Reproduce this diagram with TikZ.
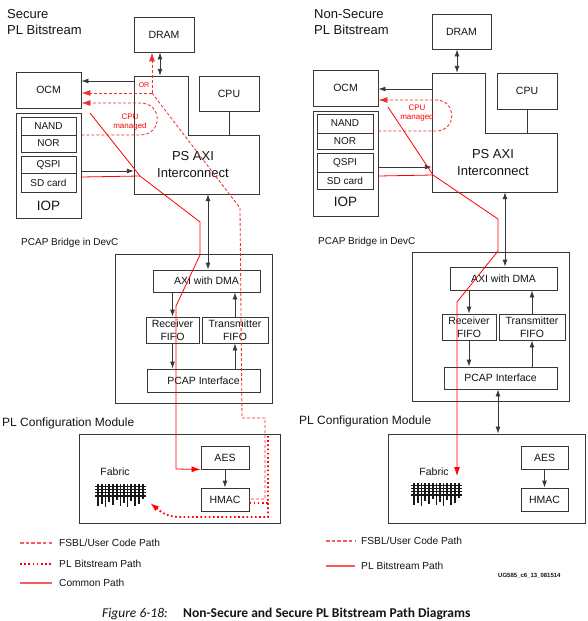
\documentclass[tikz,border=0pt]{standalone}
\usepackage{fontspec}
\setmainfont{Liberation Sans}
\newfontfamily\capfont{Carlito}
\usetikzlibrary{arrows.meta}
\definecolor{lc}{RGB}{55,55,55}
\definecolor{tc}{RGB}{20,20,20}
\definecolor{rc}{RGB}{255,0,0}
\definecolor{rc2}{RGB}{245,45,45}
\definecolor{rcl}{RGB}{250,90,90}
\begin{document}
\begin{tikzpicture}[x=1pt,y=-1pt,
  box/.style={draw=lc, line width=0.9pt, inner sep=0pt, align=center, text=tc,
    font=\fontsize{10.5}{12.5}\selectfont},
  smallbox/.style={box, font=\fontsize{10}{12}\selectfont},
  boxline/.style={draw=lc, line width=0.9pt},
  lbl/.style={inner sep=0pt, text=tc},
  arr/.style={draw=lc, line width=0.9pt, -{Latex[length=7pt,width=5pt]}},
  darr/.style={draw=lc, line width=0.9pt, {Latex[length=7pt,width=5pt]}-{Latex[length=7pt,width=5pt]}},
  rline/.style={draw=rc, line width=0.8pt},
  rdash/.style={draw=rc2, line width=0.85pt, dash pattern=on 3pt off 2pt},
  legdash/.style={draw=rcl, line width=1.1pt, dash pattern=on 3.5pt off 2.2pt},
  rdot/.style={draw=rc, line width=1.8pt, dash pattern=on 1.6pt off 2.6pt},
  rtip/.style={-{Latex[length=9pt,width=6pt]}},
  rtext/.style={inner sep=0pt, text=rc, align=center},
  fabl/.style={draw={rgb,255:red,25;green,25;blue,25}, line width=1.4pt},
  fabric/.pic={
    \foreach \yy in {2.3,5.5,8.7,12} \draw[fabl] (0,\yy) -- (51,\yy);
    \foreach \xx/\ll in {3/22,7/20,10.5/23,14/18,18/21,22/16,25.5/22,29/19,32.5/23,36/17,40/22,44/20,48/15}
      \draw[fabl] (\xx,0) -- (\xx,\ll);
  }
]
\fill[white] (0,0) rectangle (587,621);
\useasboundingbox (0,0) rectangle (587,621);

% ================= LEFT: Secure =================
\node[lbl, anchor=north west, align=left, font=\fontsize{13}{16}\selectfont] (titleL) at (7,9) {Secure\\PL Bitstream};

\node[box, minimum width=60, minimum height=35] (dramL) at (164,34.5) {DRAM};
\node[box, minimum width=65, minimum height=36] (ocmL) at (48.5,90) {OCM};
\node[box, minimum width=65, minimum height=105] (iopL) at (48.5,165.5) {};
\node[lbl, font=\fontsize{13.5}{16}\selectfont] (iopLt) at (48.5,206) {IOP};
\node[smallbox, minimum width=55, minimum height=18] (nandL) at (48.5,126) {NAND};
\node[smallbox, minimum width=55, minimum height=17] (norL) at (48.5,143.5) {NOR};
\node[smallbox, minimum width=55, minimum height=17] (qspiL) at (48.5,164.5) {QSPI};
\node[smallbox, minimum width=55, minimum height=19] (sdL) at (48.5,182.5) {SD card};

\node[inner sep=0pt, minimum width=125, minimum height=118] (psL) at (196.5,135) {};
\draw[boxline] (134,76) -- (188,76) -- (188,135) -- (259,135) -- (259,194) -- (134,194) -- cycle;
\coordinate (psLn) at (188,135);
\node[lbl, align=center, font=\fontsize{13}{17}\selectfont] (psLt) at (193,164.5) {PS AXI\\Interconnect};
\node[box, minimum width=60, minimum height=35] (cpuL) at (229,93.5) {CPU};
\draw[boxline] (cpuL.south) -- (cpuL.south |- psLn);

\draw[darr] (dramL.south -| 160,0) -- (psL.north -| 160,0);
\draw[arr] (psL.west |- 0,81) -- (ocmL.east |- 0,81);
\draw[arr] (iopL.east |- 0,171) -- (psL.west |- 0,171);

\node[lbl, anchor=west, font=\fontsize{10}{12}\selectfont] (bridgeLt) at (21,243) {PCAP Bridge in DevC};
\node[box, minimum width=157, minimum height=149] (bridgeL) at (193.5,328.5) {};
\node[box, minimum width=107, minimum height=22] (dmaL) at (206.5,281) {AXI with DMA};
\node[box, minimum width=53, minimum height=26] (rxL) at (172.5,330) {Receiver\\FIFO};
\node[box, minimum width=66, minimum height=26] (txL) at (235,330) {Transmitter\\FIFO};
\node[box, minimum width=113, minimum height=23] (pcapL) at (203.5,380.5) {PCAP Interface};
\draw[darr] (psL.south -| 208,0) -- (dmaL.north -| 208,0);
\draw[arr] (dmaL.south -| rxL) -- (rxL.north);
\draw[arr] (rxL.south) -- (pcapL.north -| rxL);
\draw[arr] (pcapL.north -| txL) -- (txL.south);
\draw[arr] (txL.north) -- (dmaL.south -| txL);

\node[lbl, anchor=west, font=\fontsize{12}{14}\selectfont] (plLt) at (2,423) {PL Configuration Module};
\node[box, minimum width=201, minimum height=89] (plL) at (179.5,478.5) {};
\node[box, minimum width=48, minimum height=23] (aesL) at (225,457.5) {AES};
\node[box, minimum width=48, minimum height=23] (hmacL) at (225,499.5) {HMAC};
\draw[arr] (aesL) -- (hmacL);
\node[lbl, font=\fontsize{10.5}{12}\selectfont] (fabLt) at (115,472) {Fabric};
\pic (fabL) at (95,484) {fabric};
\coordinate (fabLtip) at (150,503);

% red paths (left)
\coordinate (jL) at (152,93);
\draw[rdash, rtip] (jL) -- (ocmL.east |- jL);
\draw[rdash, rtip] (jL) -- (dramL.south -| jL);
\node[rtext, font=\fontsize{7}{8}\selectfont] (orL) at (144,85) {OR};
\draw[rdash] (jL) -- (240,208) -- (242,418) -- (265,418) -- (265,499) -- (hmacL.east |- 0,499);
\draw[rdot] (hmacL.east |- 0,503) -- (268,503);
\draw[rdot, rtip] (268,436) -- (268,517) -- (180,517) .. controls (166,517) and (160,511) .. (fabLtip);
\draw[rdash, rtip] (iopL.east |- 0,135) -- (140,135) .. controls (163,135) and (163,103) .. (140,103) -- (ocmL.east |- 0,103);
\node[rtext, font=\fontsize{8}{9.7}\selectfont] (cpumL) at (130,122) {CPU\\managed};
\coordinate (kL) at (140,176);
\draw[rline] (iopL.east |- 0,177) -- (kL);
\draw[rline, rtip] (90,113) -- (kL) -- (200,222) -- (200,255) -- (176,306) -- (176,469) -- (aesL.south west);

% legend (left)
\draw[legdash] (20,543) -- (52,543);
\node[lbl, anchor=west, font=\fontsize{10.2}{12}\selectfont] (legL1) at (59,543) {FSBL/User Code Path};
\draw[rdot] (20,564) -- (52,564);
\node[lbl, anchor=west, font=\fontsize{10.2}{12}\selectfont] (legL2) at (59,564) {PL Bitstream Path};
\draw[draw=rcl, line width=1.3pt] (20,583) -- (52,583);
\node[lbl, anchor=west, font=\fontsize{10.2}{12}\selectfont] (legL3) at (59,583) {Common Path};

% ================= RIGHT: Non-Secure =================
\node[lbl, anchor=north west, align=left, font=\fontsize{13}{16}\selectfont] (titleR) at (314,9) {Non-Secure\\PL Bitstream};

\node[box, minimum width=59, minimum height=35] (dramR) at (461.5,31.5) {DRAM};
\node[box, minimum width=65, minimum height=36] (ocmR) at (345.5,88) {OCM};
\node[box, minimum width=65, minimum height=105] (iopR) at (345.5,163.5) {};
\node[lbl, font=\fontsize{13.5}{16}\selectfont] (iopRt) at (345.5,202) {IOP};
\node[smallbox, minimum width=56, minimum height=19] (nandR) at (345,123.5) {NAND};
\node[smallbox, minimum width=56, minimum height=16] (norR) at (345,141) {NOR};
\node[smallbox, minimum width=56, minimum height=19] (qspiR) at (345,162.5) {QSPI};
\node[smallbox, minimum width=56, minimum height=17] (sdR) at (345,180.5) {SD card};

\node[inner sep=0pt, minimum width=125, minimum height=119] (psR) at (494.5,132.5) {};
\draw[boxline] (432,73) -- (485,73) -- (485,133) -- (557,133) -- (557,192) -- (432,192) -- cycle;
\coordinate (psRn) at (485,133);
\node[lbl, align=center, font=\fontsize{13}{17}\selectfont] (psRt) at (493,162.5) {PS AXI\\Interconnect};
\node[box, minimum width=60, minimum height=36] (cpuR) at (527,91) {CPU};
\draw[boxline] (cpuR.south) -- (cpuR.south |- psRn);

\draw[darr] (dramR.south -| 457,0) -- (psR.north -| 457,0);
\draw[arr] (psR.west |- 0,89) -- (ocmR.east |- 0,89);
\draw[arr] (iopR.east |- 0,167) -- (psR.west |- 0,167);

\node[lbl, anchor=west, font=\fontsize{10}{12}\selectfont] (bridgeRt) at (318,242) {PCAP Bridge in DevC};
\node[box, minimum width=157, minimum height=149] (bridgeR) at (490.5,326.5) {};
\node[box, minimum width=107, minimum height=23] (dmaR) at (503.5,278.5) {AXI with DMA};
\node[box, minimum width=54, minimum height=26] (rxR) at (469,327) {Receiver\\FIFO};
\node[box, minimum width=66, minimum height=26] (txR) at (532,327) {Transmitter\\FIFO};
\node[box, minimum width=113, minimum height=22] (pcapR) at (500.5,378) {PCAP Interface};
\draw[darr] (psR.south -| 505,0) -- (dmaR.north -| 505,0);
\draw[arr] (dmaR.south -| rxR) -- (rxR.north);
\draw[arr] (rxR.south) -- (pcapR.north -| rxR);
\draw[arr] (pcapR.north -| txR) -- (txR.south);
\draw[arr] (txR.north) -- (dmaR.south -| txR);

\node[lbl, anchor=west, font=\fontsize{12}{14}\selectfont] (plRt) at (299,421) {PL Configuration Module};
\node[box, minimum width=197, minimum height=89] (plR) at (486.5,478.5) {};
\node[box, minimum width=47, minimum height=23] (aesR) at (544.5,457.5) {AES};
\node[box, minimum width=47, minimum height=23] (hmacR) at (544.5,499.5) {HMAC};
\draw[arr] (aesR) -- (hmacR);
\draw[darr] (pcapR.south -| 498,0) -- (plR.north -| 498,0);
\node[lbl, font=\fontsize{10.5}{12}\selectfont] (fabRt) at (434,472) {Fabric};
\pic (fabR) at (411,483) {fabric};
\coordinate (fabRtip) at (457,476);

% red paths (right)
\draw[rdash, rtip] (iopR.east |- 0,131) -- (436,131) .. controls (457,131) and (457,100) .. (436,100) -- (ocmR.east |- 0,100);
\node[rtext, font=\fontsize{8}{9.7}\selectfont] (cpumR) at (417,113) {CPU\\managed};
\coordinate (kR) at (433,175);
\draw[rline] (iopR.east |- 0,176) -- (kR);
\draw[rline, rtip] (388,107) -- (kR) -- (498,219) -- (498,251) -- (457,302) -- (fabRtip);

% legend (right)
\draw[legdash] (326,541) -- (355,541);
\node[lbl, anchor=west, font=\fontsize{10.2}{12}\selectfont] (legR1) at (361,541) {FSBL/User Code Path};
\draw[draw=rcl, line width=1.3pt] (326,566) -- (355,566);
\node[lbl, anchor=west, font=\fontsize{10.2}{12}\selectfont] (legR2) at (361,566) {PL Bitstream Path};
\node[lbl, anchor=west, font=\fontsize{6}{7}\selectfont\bfseries] (ugid) at (498,576) {UG585\_c6\_13\_081514};

% caption
\node[lbl, anchor=base west, font=\capfont\itshape\fontsize{13.5}{16}\selectfont] (capa) at (102,617) {Figure 6-18:};
\node[lbl, anchor=base west, font=\capfont\bfseries\fontsize{13.5}{16}\selectfont] (capb) at (183,617) {Non-Secure and Secure PL Bitstream Path Diagrams};
\end{tikzpicture}
\end{document}
